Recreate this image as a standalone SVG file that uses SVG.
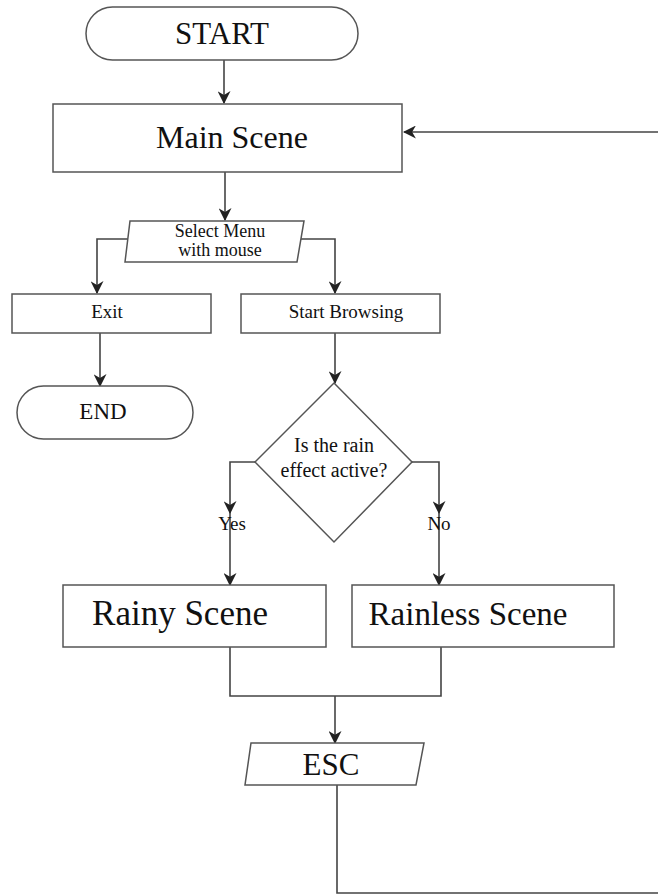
<svg xmlns="http://www.w3.org/2000/svg" width="658" height="895" viewBox="0 0 658 895">
<style>
.box{fill:#fff;stroke:#555;stroke-width:1.5}
.ln{fill:none;stroke:#444;stroke-width:1.6}
.t{font-family:"Liberation Serif","Times New Roman",serif;fill:#111;text-anchor:middle}
</style>
<defs>
<marker id="ah" markerWidth="13" markerHeight="13" viewBox="0 0 12 12" refX="11" refY="6" orient="auto" markerUnits="userSpaceOnUse">
<path d="M0,0 L12,6 L0,12 L3.5,6 z" fill="#222"/>
</marker>
</defs>
<rect width="658" height="895" fill="#fff"/>
<g id="connectors">
<line class="ln" x1="224" y1="60" x2="224" y2="103" marker-end="url(#ah)"/>
<line class="ln" x1="225" y1="172" x2="225" y2="220" marker-end="url(#ah)"/>
<polyline class="ln" points="128,239 97,239 97,293" marker-end="url(#ah)"/>
<polyline class="ln" points="301,239 335,239 335,293" marker-end="url(#ah)"/>
<line class="ln" x1="100" y1="333" x2="100" y2="386" marker-end="url(#ah)"/>
<line class="ln" x1="335" y1="333" x2="335" y2="383" marker-end="url(#ah)"/>
<polyline class="ln" points="255,462 230,462 230,513" marker-end="url(#ah)"/>
<line class="ln" x1="230" y1="513" x2="230" y2="585" marker-end="url(#ah)"/>
<polyline class="ln" points="412,462 439,462 439,513" marker-end="url(#ah)"/>
<line class="ln" x1="439" y1="513" x2="439" y2="585" marker-end="url(#ah)"/>
<polyline class="ln" points="230,647 230,696 441,696 441,647"/>
<line class="ln" x1="335" y1="696" x2="335" y2="743" marker-end="url(#ah)"/>
<polyline class="ln" points="337,785 337,893 658,893"/>
<line class="ln" x1="658" y1="132" x2="404" y2="132" marker-end="url(#ah)"/>
<text class="t" x="232" y="530" font-size="19">Yes</text>
<text class="t" x="439" y="530" font-size="19">No</text>
</g>
<g id="start">
<rect class="box" x="86" y="7" width="272" height="53" rx="26.5"/>
<text class="t" x="222" y="44" font-size="31">START</text>
</g>
<g id="main-scene">
<rect class="box" x="53" y="104" width="349" height="68"/>
<text class="t" x="232" y="148" font-size="32">Main Scene</text>
</g>
<g id="select-menu">
<polygon class="box" points="130,221 304,221 297,262 125,262"/>
<text class="t" x="220" y="237" font-size="18">Select Menu</text>
<text class="t" x="220" y="256" font-size="18">with mouse</text>
</g>
<g id="exit">
<rect class="box" x="12" y="294" width="199" height="39"/>
<text class="t" x="107" y="318" font-size="19">Exit</text>
</g>
<g id="start-browsing">
<rect class="box" x="241" y="294" width="199" height="39"/>
<text class="t" x="346" y="318" font-size="19">Start Browsing</text>
</g>
<g id="end">
<rect class="box" x="17" y="386" width="176" height="53" rx="26.5"/>
<text class="t" x="103" y="419" font-size="23">END</text>
</g>
<g id="decision">
<polygon class="box" points="334,383 412,462 334,542 255,462"/>
<text class="t" x="334" y="452" font-size="20">Is the rain</text>
<text class="t" x="334" y="477" font-size="20">effect active?</text>
</g>
<g id="rainy-scene">
<rect class="box" x="63" y="585" width="263" height="62"/>
<text class="t" x="180" y="625" font-size="35">Rainy Scene</text>
</g>
<g id="rainless-scene">
<rect class="box" x="352" y="585" width="262" height="62"/>
<text class="t" x="468" y="625" font-size="33">Rainless Scene</text>
</g>
<g id="esc">
<polygon class="box" points="251,743 424,743 416,785 245,785"/>
<text class="t" x="331" y="775" font-size="31">ESC</text>
</g>
</svg>
